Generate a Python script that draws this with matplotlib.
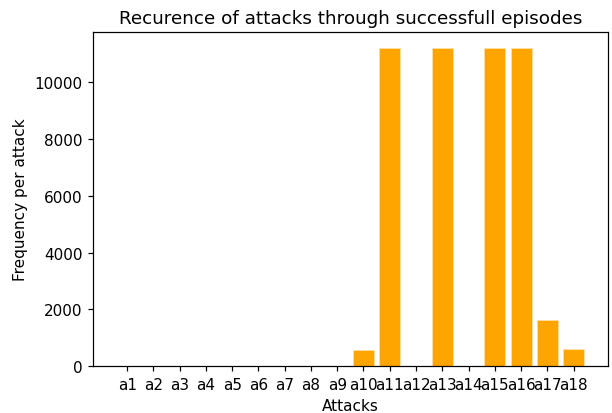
import matplotlib.pyplot as plt
import numpy as np

ataques = ["a" + str(i) for i in range(1, 19)]
frecuencia = [0, 0, 0, 0, 0, 0, 0, 0, 0, 580, 11200, 0, 11200, 0, 11200, 11200, 1620, 610]

# el grafico original parece escalado ~1.1, usamos dpi 110
fig, ax = plt.subplots(figsize=(6.12 / 1.1, 4.14 / 1.1), dpi=110)
x = np.arange(len(ataques))
ax.bar(x, frecuencia, color='orange', edgecolor='#ffe0b0', linewidth=0.5)
ax.set_xticks(x)
ax.set_xticklabels(ataques)
ax.set_xlim(-1.3, 18.3)
ax.set_xlabel("Attacks")
ax.set_ylabel("Frequency per attack")
ax.set_title("Recurence of attacks through successfull episodes")
fig.subplots_adjust(left=0.152, right=0.993, top=0.92, bottom=0.113)
fig.savefig("out.png")
